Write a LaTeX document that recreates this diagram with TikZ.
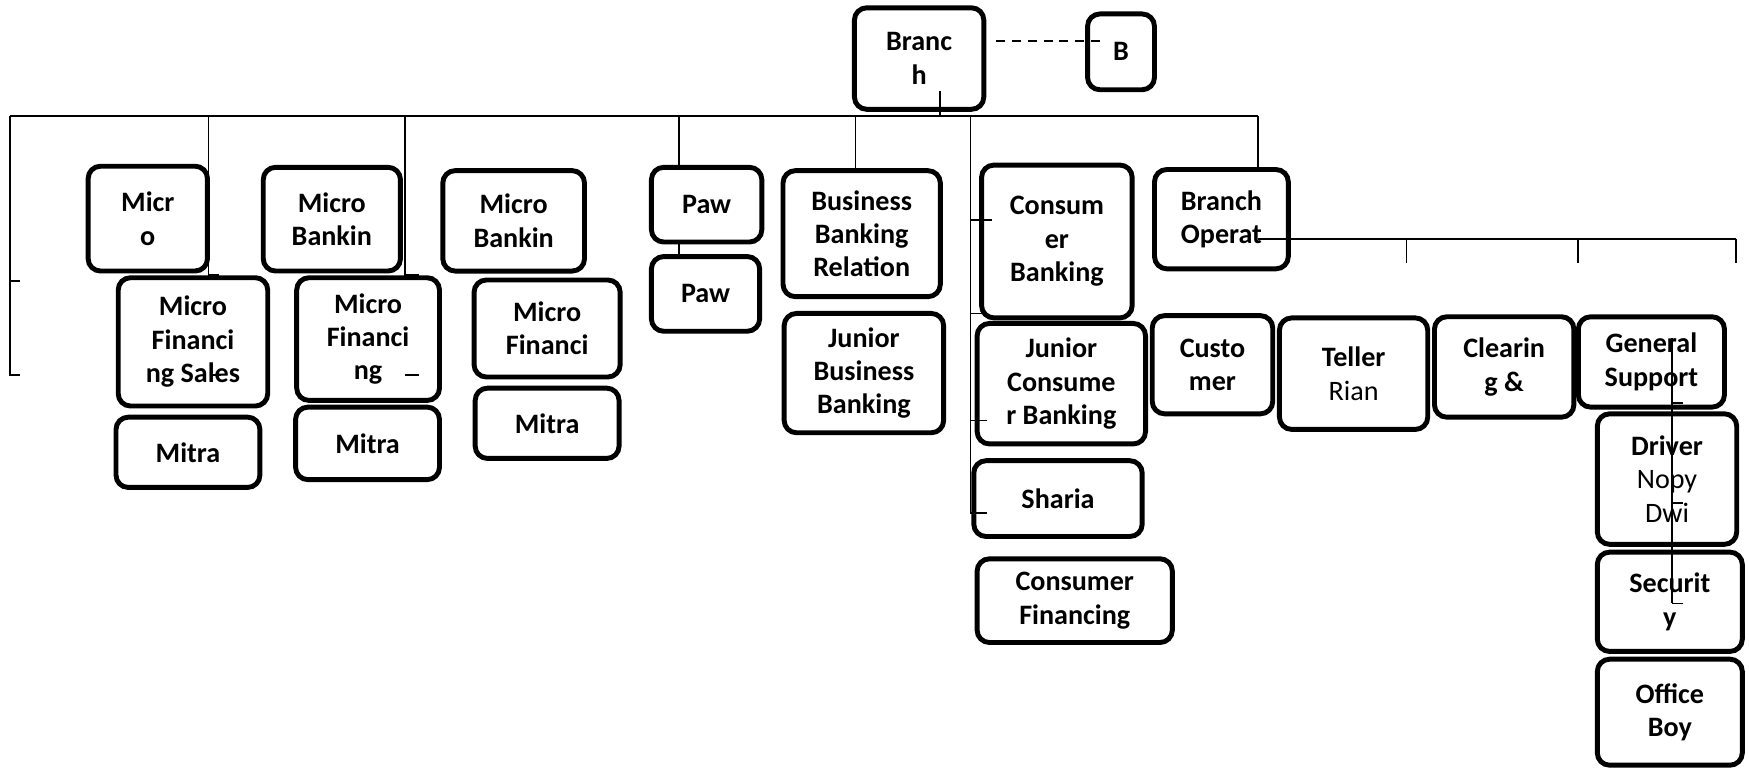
\documentclass[tikz,border=0pt]{standalone}
\usepackage{fontspec}
\setmainfont{Carlito}
\usetikzlibrary{calc}
\tikzset{
  OB/.style={rectangle,rounded corners=3.5pt,
             draw,line width=1.4pt,fill=white,
             inner sep=1pt,text centered,align=center,
             font=\fontsize{8}{9.5}\selectfont\bfseries},
  ln/.style={line width=0.5pt},
  dl/.style={line width=0.5pt,dash pattern=on 2.6pt off 1.9pt}
}

\begin{document}
\begin{tikzpicture}[x=0.011154cm,y=-0.011154cm]
  \useasboundingbox (0,0) rectangle (1568,688);

  % head
  \node[OB,minimum width=1.294cm,minimum height=1.015cm] (branch) at (824,52.5) {Branc\\h};
  \node[OB,minimum width=0.669cm,minimum height=0.758cm] (bhead) at (1005,46.5) {B};

  % micro and pawn
  \node[OB,minimum width=1.193cm,minimum height=1.048cm] (micro) at (132.5,196) {Micr\\o};
  \node[OB,minimum width=1.372cm,minimum height=1.037cm] (mbank1) at (297.5,196.5) {Micro\\Bankin};
  \node[OB,minimum width=1.417cm,minimum height=1.004cm] (mbank2) at (460.5,198) {Micro\\Bankin};
  \node[OB,minimum width=1.495cm,minimum height=1.283cm] (mfin1) at (173,306.5) {Micro\\Financi\\ng Sales};
  \node[OB,minimum width=1.428cm,minimum height=1.227cm] (mfin2) at (330,304) {Micro\\Financi\\ng};
  \node[OB,minimum width=1.461cm,minimum height=0.970cm] (mfin3) at (490.5,294.5) {Micro\\Financi};
  \node[OB,minimum width=1.439cm,minimum height=0.703cm] (mitra1) at (168.5,405.5) {Mitra};
  \node[OB,minimum width=1.439cm,minimum height=0.725cm] (mitra2) at (329.5,397.5) {Mitra};
  \node[OB,minimum width=1.439cm,minimum height=0.703cm] (mitra3) at (490.5,379.5) {Mitra};
  \node[OB,minimum width=1.104cm,minimum height=0.747cm] (pawn1) at (633.5,183.5) {Paw};
  \node[OB,minimum width=1.082cm,minimum height=0.747cm] (pawn2) at (632.5,263.5) {Paw};

  % business and consumer
  \node[OB,minimum width=1.573cm,minimum height=1.260cm] (bbr) at (772.5,209.5) {Business\\Banking\\Relation};
  \node[OB,minimum width=1.595cm,minimum height=1.193cm] (jbb) at (774.5,334.5) {Junior\\Business\\Banking};
  \node[OB,minimum width=1.506cm,minimum height=1.528cm] (cbr) at (947.5,216.5) {Consum\\er\\Banking};
  \node[OB,minimum width=1.684cm,minimum height=1.205cm] (jcb) at (951.5,344) {Junior\\Consume\\r Banking};
  \node[OB,minimum width=1.684cm,minimum height=0.758cm] (sharia) at (948.5,447) {Sharia};
  \node[OB,minimum width=1.952cm,minimum height=0.837cm] (cfin) at (963.5,538.5) {Consumer\\Financing};

  % operations
  \node[OB,minimum width=1.338cm,minimum height=0.993cm] (bops) at (1095,196.5) {Branch\\Operat};
  \node[OB,minimum width=1.205cm,minimum height=0.982cm] (cust) at (1087,327) {Custo\\mer};
  \node[OB,minimum width=1.483cm,minimum height=1.115cm] (teller) at (1213.5,335) {Teller\\\mdseries Rian};
  \node[OB,minimum width=1.394cm,minimum height=1.004cm] (clear) at (1348.5,329) {Clearin\\g \&};
  \node[OB,minimum width=1.461cm,minimum height=0.903cm] (gsup) at (1480.5,324.5) {General\\Support};
  \node[OB,minimum width=1.394cm,minimum height=1.305cm] (driver) at (1494.5,429.5) {Driver\\\mdseries Nopy\\\mdseries Dwi};
  \node[OB,minimum width=1.450cm,minimum height=0.993cm] (secur) at (1497,539.5) {Securit\\y};
  \node[OB,minimum width=1.450cm,minimum height=1.060cm] (oboy) at (1497,638.5) {Office\\Boy};

  % ends of the connectors
  \coordinate (dsA) at (893,37);
  \coordinate (dsB) at (991,37);
  \coordinate (hubT) at (843,82);
  \coordinate (hub) at (843,104);
  \coordinate (busL) at (9,104);
  \coordinate (busR) at (1128,104);
  \coordinate (lbA) at (9,252);
  \coordinate (lbB) at (9,336);
  \coordinate (dm1) at (187,104);
  \coordinate (dm2) at (363,104);
  \coordinate (dpw) at (609,104);
  \coordinate (dbb) at (767,104);
  \coordinate (dcb) at (870,104);
  \coordinate (dcbE) at (870,460);
  \coordinate (boL) at (1128,214);
  \coordinate (boR) at (1556,214);
  \coordinate (gsT) at (1499,303);
  \coordinate (gsB) at (1499,541);

  \draw[dl] (dsA) -- (dsB);
  \draw[ln] (hubT) -- (hub);
  \draw[ln] (busL) -- (busR);
  \draw[ln] (busL) -- (lbB) -- ++(9,0);
  \draw[ln] (lbA) -- ++(9,0);
  \draw[ln] (dm1) -- (dm1 |- mfin1.north) -- ++(9,0);
  \draw[ln] (dm2) -- (dm2 |- mfin2.north) -- ++(13,0);
  \draw[ln] (188,336) -- ++(10,0);
  \draw[ln] (363,336) -- ++(13,0);
  \draw[ln] (dpw) -- (dpw |- pawn1.north);
  \draw[ln] (dpw |- pawn1.south) -- (dpw |- pawn2.north);
  \draw[ln] (dbb) -- (dbb |- bbr.north);
  \draw[ln] (dcb) -- (dcbE);
  \foreach \y/\l in {197/19,281/15,377/15,460/15}
    \draw[ln] (870,\y) -- ++(\l,0);
  \draw[ln] (busR) -- (busR |- bops.north);
  \draw[ln] (boL) -- (boR);
  \foreach \x in {1261,1415,1556}
    \draw[ln] (\x,214) -- ++(0,22);
  \draw[ln] (gsT) -- (gsB);
  \foreach \y in {361,451,541}
    \draw[ln] (1499,\y) -- ++(10,0);
\end{tikzpicture}
\end{document}
